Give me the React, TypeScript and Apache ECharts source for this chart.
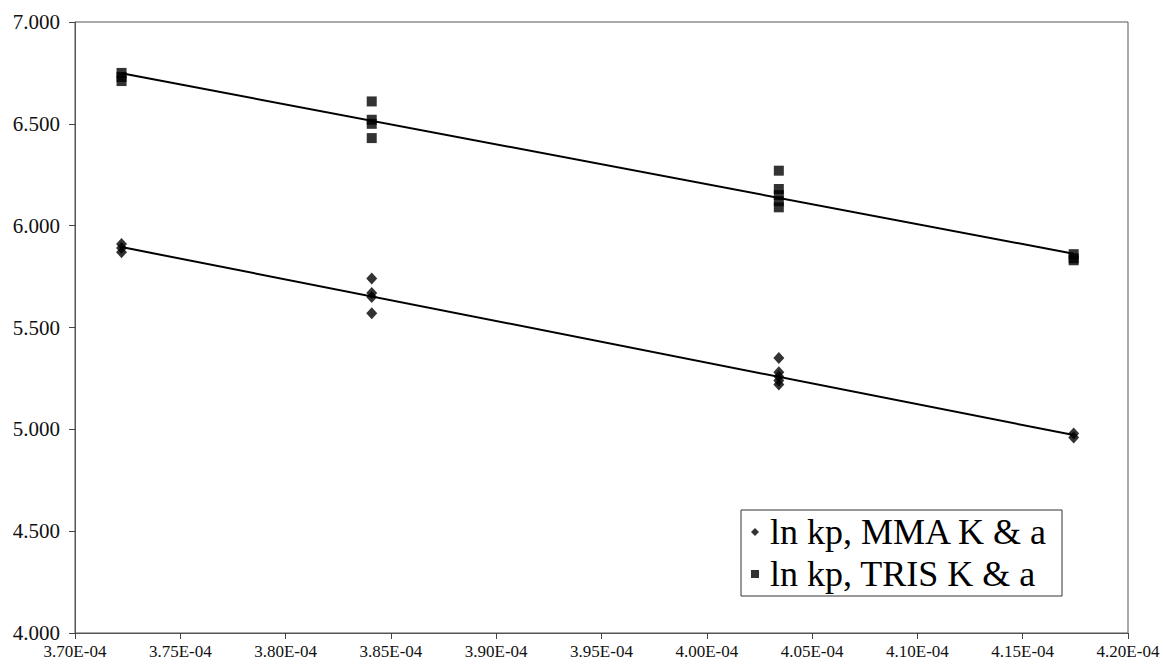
import React, { useEffect, useRef } from "react";
import * as echarts from "echarts";

// x = 1/(R*T), y = ln kp
const xValues = [3.7221e-4, 3.8409e-4, 4.0342e-4, 4.1742e-4];

const mmaX = [
  3.7221e-4, 3.7221e-4, 3.7221e-4,
  3.8409e-4, 3.8409e-4, 3.8409e-4, 3.8409e-4,
  4.0342e-4, 4.0342e-4, 4.0342e-4, 4.0342e-4, 4.0342e-4,
  4.1742e-4, 4.1742e-4,
];
const mmaY = [
  5.91, 5.89, 5.87,
  5.74, 5.67, 5.65, 5.57,
  5.35, 5.28, 5.26, 5.24, 5.22,
  4.98, 4.96,
];

const trisX = [
  3.7221e-4, 3.7221e-4, 3.7221e-4,
  3.8409e-4, 3.8409e-4, 3.8409e-4, 3.8409e-4,
  4.0342e-4, 4.0342e-4, 4.0342e-4, 4.0342e-4, 4.0342e-4,
  4.1742e-4, 4.1742e-4, 4.1742e-4,
];
const trisY = [
  6.75, 6.73, 6.71,
  6.61, 6.52, 6.50, 6.43,
  6.27, 6.18, 6.15, 6.12, 6.09,
  5.86, 5.84, 5.83,
];

// trendline end points
const mmaTrendY = [5.895, 4.972];
const trisTrendY = [6.748, 5.862];

const seriesNames = ["ln kp, MMA K & a", "ln kp, TRIS K & a"];

const FONT = "Times New Roman";

export default function App() {
  const ref = useRef<HTMLDivElement>(null);
  useEffect(() => {
    document.body.style.margin = "0";
    const chart = echarts.init(ref.current!, null, { renderer: "svg" });
    const trendX = [xValues[0], xValues[xValues.length - 1]];
    chart.setOption({
      animation: false,
      backgroundColor: "#ffffff",
      textStyle: { fontFamily: FONT },
      grid: {
        left: 75,
        right: 35,
        top: 22,
        bottom: 39,
        show: true,
        borderColor: "#555",
        borderWidth: 1,
      },
      xAxis: {
        type: "value",
        min: 3.7e-4,
        max: 4.2e-4,
        interval: 5e-6,
        axisLine: { lineStyle: { color: "#555", width: 1 } },
        axisTick: { show: true, length: 6, lineStyle: { color: "#444" } },
        splitLine: { show: false },
        axisLabel: {
          color: "#111",
          fontFamily: FONT,
          fontSize: 17,
          margin: 10,
          formatter: (v: number) => {
            const s = v.toExponential(2);
            const [m, e] = s.split("e");
            const ex = parseInt(e, 10);
            const sign = ex < 0 ? "-" : "+";
            const abs = Math.abs(ex).toString().padStart(2, "0");
            return `${m}E${sign}${abs}`;
          },
        },
      },
      yAxis: {
        type: "value",
        min: 4,
        max: 7,
        interval: 0.5,
        axisLine: { show: true, lineStyle: { color: "#555", width: 1 } },
        axisTick: { show: true, length: 6, lineStyle: { color: "#444" } },
        splitLine: { show: false },
        axisLabel: {
          color: "#111",
          fontFamily: FONT,
          fontSize: 21,
          margin: 15,
          formatter: (v: number) => v.toFixed(3),
        },
      },
      legend: {
        data: [
          { name: seriesNames[0], icon: "diamond" },
          { name: seriesNames[1], icon: "rect" },
        ],
        orient: "vertical",
        right: 101,
        bottom: 76,
        backgroundColor: "#fff",
        borderColor: "#333",
        borderWidth: 1,
        padding: [1, 14, 1, 10],
        itemGap: 0,
        itemWidth: 8,
        itemHeight: 8,
        textStyle: {
          fontFamily: FONT,
          fontSize: 36,
          color: "#000",
          lineHeight: 42,
          padding: [0, 0, 0, 6],
        },
      },
      series: [
        {
          name: seriesNames[0],
          type: "scatter",
          symbol: "diamond",
          symbolSize: [11, 12],
          itemStyle: { color: "#000" },
          data: mmaX.map((x, i) => [x, mmaY[i]]),
          z: 3,
        },
        {
          name: seriesNames[1],
          type: "scatter",
          symbol: "rect",
          symbolSize: [10, 10],
          itemStyle: { color: "#000" },
          data: trisX.map((x, i) => [x, trisY[i]]),
          z: 3,
        },
        {
          name: "MMA trend",
          type: "line",
          showSymbol: false,
          symbol: "none",
          lineStyle: { color: "#000", width: 2 },
          data: trendX.map((x, i) => [x, mmaTrendY[i]]),
          z: 2,
        },
        {
          name: "TRIS trend",
          type: "line",
          showSymbol: false,
          symbol: "none",
          lineStyle: { color: "#000", width: 2 },
          data: trendX.map((x, i) => [x, trisTrendY[i]]),
          z: 2,
        },
      ],
    });
    return () => chart.dispose();
  }, []);
  return <div ref={ref} style={{ width: 1163, height: 672 }} />;
}
